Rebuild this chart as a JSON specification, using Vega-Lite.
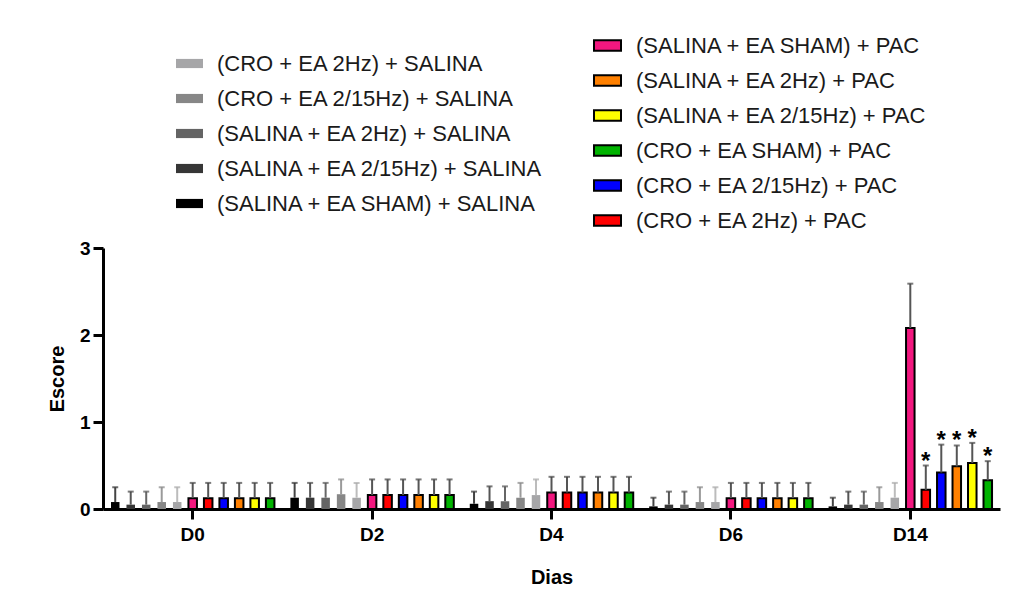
{
  "$schema": "https://vega.github.io/schema/vega-lite/v6.json",
  "width": 897,
  "height": 261,
  "autosize": {"type": "none"},
  "padding": {"left": 103, "top": 248, "right": 17, "bottom": 83},
  "background": "white",
  "config": {"font": "Liberation Sans", "view": {"stroke": null}},
  "data": {"values": [
    {"dia": "D0", "grupo": "(SALINA + EA SHAM) + SALINA", "tipo": "SALINA", "media": 0.08, "topo": 0.25},
    {"dia": "D0", "grupo": "(SALINA + EA 2/15Hz) + SALINA", "tipo": "SALINA", "media": 0.05, "topo": 0.2},
    {"dia": "D0", "grupo": "(SALINA + EA 2Hz) + SALINA", "tipo": "SALINA", "media": 0.05, "topo": 0.2},
    {"dia": "D0", "grupo": "(CRO + EA 2/15Hz) + SALINA", "tipo": "SALINA", "media": 0.08, "topo": 0.25},
    {"dia": "D0", "grupo": "(CRO + EA 2Hz) + SALINA", "tipo": "SALINA", "media": 0.08, "topo": 0.25},
    {"dia": "D0", "grupo": "(SALINA + EA SHAM) + PAC", "tipo": "PAC", "media": 0.125, "topo": 0.3},
    {"dia": "D0", "grupo": "(CRO + EA 2Hz) + PAC", "tipo": "PAC", "media": 0.125, "topo": 0.3},
    {"dia": "D0", "grupo": "(CRO + EA 2/15Hz) + PAC", "tipo": "PAC", "media": 0.125, "topo": 0.3},
    {"dia": "D0", "grupo": "(SALINA + EA 2Hz) + PAC", "tipo": "PAC", "media": 0.125, "topo": 0.3},
    {"dia": "D0", "grupo": "(SALINA + EA 2/15Hz) + PAC", "tipo": "PAC", "media": 0.125, "topo": 0.3},
    {"dia": "D0", "grupo": "(CRO + EA SHAM) + PAC", "tipo": "PAC", "media": 0.125, "topo": 0.3},

    {"dia": "D2", "grupo": "(SALINA + EA SHAM) + SALINA", "tipo": "SALINA", "media": 0.13, "topo": 0.3},
    {"dia": "D2", "grupo": "(SALINA + EA 2/15Hz) + SALINA", "tipo": "SALINA", "media": 0.13, "topo": 0.3},
    {"dia": "D2", "grupo": "(SALINA + EA 2Hz) + SALINA", "tipo": "SALINA", "media": 0.13, "topo": 0.3},
    {"dia": "D2", "grupo": "(CRO + EA 2/15Hz) + SALINA", "tipo": "SALINA", "media": 0.17, "topo": 0.34},
    {"dia": "D2", "grupo": "(CRO + EA 2Hz) + SALINA", "tipo": "SALINA", "media": 0.13, "topo": 0.3},
    {"dia": "D2", "grupo": "(SALINA + EA SHAM) + PAC", "tipo": "PAC", "media": 0.16, "topo": 0.34},
    {"dia": "D2", "grupo": "(CRO + EA 2Hz) + PAC", "tipo": "PAC", "media": 0.16, "topo": 0.34},
    {"dia": "D2", "grupo": "(CRO + EA 2/15Hz) + PAC", "tipo": "PAC", "media": 0.16, "topo": 0.34},
    {"dia": "D2", "grupo": "(SALINA + EA 2Hz) + PAC", "tipo": "PAC", "media": 0.16, "topo": 0.34},
    {"dia": "D2", "grupo": "(SALINA + EA 2/15Hz) + PAC", "tipo": "PAC", "media": 0.16, "topo": 0.34},
    {"dia": "D2", "grupo": "(CRO + EA SHAM) + PAC", "tipo": "PAC", "media": 0.16, "topo": 0.34},

    {"dia": "D4", "grupo": "(SALINA + EA SHAM) + SALINA", "tipo": "SALINA", "media": 0.06, "topo": 0.2},
    {"dia": "D4", "grupo": "(SALINA + EA 2/15Hz) + SALINA", "tipo": "SALINA", "media": 0.09, "topo": 0.26},
    {"dia": "D4", "grupo": "(SALINA + EA 2Hz) + SALINA", "tipo": "SALINA", "media": 0.09, "topo": 0.26},
    {"dia": "D4", "grupo": "(CRO + EA 2/15Hz) + SALINA", "tipo": "SALINA", "media": 0.13, "topo": 0.3},
    {"dia": "D4", "grupo": "(CRO + EA 2Hz) + SALINA", "tipo": "SALINA", "media": 0.16, "topo": 0.34},
    {"dia": "D4", "grupo": "(SALINA + EA SHAM) + PAC", "tipo": "PAC", "media": 0.19, "topo": 0.37},
    {"dia": "D4", "grupo": "(CRO + EA 2Hz) + PAC", "tipo": "PAC", "media": 0.19, "topo": 0.37},
    {"dia": "D4", "grupo": "(CRO + EA 2/15Hz) + PAC", "tipo": "PAC", "media": 0.19, "topo": 0.37},
    {"dia": "D4", "grupo": "(SALINA + EA 2Hz) + PAC", "tipo": "PAC", "media": 0.19, "topo": 0.37},
    {"dia": "D4", "grupo": "(SALINA + EA 2/15Hz) + PAC", "tipo": "PAC", "media": 0.19, "topo": 0.37},
    {"dia": "D4", "grupo": "(CRO + EA SHAM) + PAC", "tipo": "PAC", "media": 0.19, "topo": 0.37},

    {"dia": "D6", "grupo": "(SALINA + EA SHAM) + SALINA", "tipo": "SALINA", "media": 0.03, "topo": 0.13},
    {"dia": "D6", "grupo": "(SALINA + EA 2/15Hz) + SALINA", "tipo": "SALINA", "media": 0.05, "topo": 0.2},
    {"dia": "D6", "grupo": "(SALINA + EA 2Hz) + SALINA", "tipo": "SALINA", "media": 0.05, "topo": 0.2},
    {"dia": "D6", "grupo": "(CRO + EA 2/15Hz) + SALINA", "tipo": "SALINA", "media": 0.08, "topo": 0.25},
    {"dia": "D6", "grupo": "(CRO + EA 2Hz) + SALINA", "tipo": "SALINA", "media": 0.08, "topo": 0.25},
    {"dia": "D6", "grupo": "(SALINA + EA SHAM) + PAC", "tipo": "PAC", "media": 0.125, "topo": 0.3},
    {"dia": "D6", "grupo": "(CRO + EA 2Hz) + PAC", "tipo": "PAC", "media": 0.125, "topo": 0.3},
    {"dia": "D6", "grupo": "(CRO + EA 2/15Hz) + PAC", "tipo": "PAC", "media": 0.125, "topo": 0.3},
    {"dia": "D6", "grupo": "(SALINA + EA 2Hz) + PAC", "tipo": "PAC", "media": 0.125, "topo": 0.3},
    {"dia": "D6", "grupo": "(SALINA + EA 2/15Hz) + PAC", "tipo": "PAC", "media": 0.125, "topo": 0.3},
    {"dia": "D6", "grupo": "(CRO + EA SHAM) + PAC", "tipo": "PAC", "media": 0.125, "topo": 0.3},

    {"dia": "D14", "grupo": "(SALINA + EA SHAM) + SALINA", "tipo": "SALINA", "media": 0.03, "topo": 0.13},
    {"dia": "D14", "grupo": "(SALINA + EA 2/15Hz) + SALINA", "tipo": "SALINA", "media": 0.05, "topo": 0.2},
    {"dia": "D14", "grupo": "(SALINA + EA 2Hz) + SALINA", "tipo": "SALINA", "media": 0.05, "topo": 0.2},
    {"dia": "D14", "grupo": "(CRO + EA 2/15Hz) + SALINA", "tipo": "SALINA", "media": 0.08, "topo": 0.25},
    {"dia": "D14", "grupo": "(CRO + EA 2Hz) + SALINA", "tipo": "SALINA", "media": 0.13, "topo": 0.3},
    {"dia": "D14", "grupo": "(SALINA + EA SHAM) + PAC", "tipo": "PAC", "media": 2.08, "topo": 2.59},
    {"dia": "D14", "grupo": "(CRO + EA 2Hz) + PAC", "tipo": "PAC", "media": 0.22, "topo": 0.5, "sig": "*"},
    {"dia": "D14", "grupo": "(CRO + EA 2/15Hz) + PAC", "tipo": "PAC", "media": 0.42, "topo": 0.74, "sig": "*"},
    {"dia": "D14", "grupo": "(SALINA + EA 2Hz) + PAC", "tipo": "PAC", "media": 0.49, "topo": 0.73, "sig": "*"},
    {"dia": "D14", "grupo": "(SALINA + EA 2/15Hz) + PAC", "tipo": "PAC", "media": 0.53, "topo": 0.76, "sig": "*"},
    {"dia": "D14", "grupo": "(CRO + EA SHAM) + PAC", "tipo": "PAC", "media": 0.33, "topo": 0.55, "sig": "*"}
  ]},
  "encoding": {
    "x": {
      "field": "dia", "type": "nominal",
      "scale": {"domain": ["D0", "D2", "D4", "D6", "D14"], "paddingInner": 0.05, "paddingOuter": 0.025},
      "axis": {
        "title": "Dias", "labelAngle": 0, "bandPosition": 0.5,
        "domainWidth": 3, "domainColor": "black", "tickWidth": 3, "tickColor": "black", "tickSize": 10,
        "labelFontSize": 19, "labelFontWeight": "bold", "labelColor": "black", "labelPadding": 6,
        "titleFontSize": 20, "titleFontWeight": "bold", "titleColor": "black", "titlePadding": 23
      }
    },
    "xOffset": {
      "field": "grupo", "type": "nominal",
      "scale": {
        "domain": ["(SALINA + EA SHAM) + SALINA", "(SALINA + EA 2/15Hz) + SALINA", "(SALINA + EA 2Hz) + SALINA", "(CRO + EA 2/15Hz) + SALINA", "(CRO + EA 2Hz) + SALINA", "(SALINA + EA SHAM) + PAC", "(CRO + EA 2Hz) + PAC", "(CRO + EA 2/15Hz) + PAC", "(SALINA + EA 2Hz) + PAC", "(SALINA + EA 2/15Hz) + PAC", "(CRO + EA SHAM) + PAC"],
        "paddingInner": 0.45, "paddingOuter": 0.225
      }
    },
    "y": {
      "field": "media", "type": "quantitative",
      "scale": {"domain": [0, 3], "nice": false},
      "axis": {
        "title": "Escore", "values": [0, 1, 2, 3], "format": "d", "grid": false,
        "domainWidth": 3, "domainColor": "black", "tickWidth": 3, "tickColor": "black", "tickSize": 10,
        "labelFontSize": 19, "labelFontWeight": "bold", "labelColor": "black", "labelPadding": 3,
        "titleFontSize": 20, "titleFontWeight": "bold", "titleColor": "black", "titlePadding": 12
      }
    }
  },
  "layer": [
    {
      "transform": [{"filter": "datum.tipo == 'SALINA'"}],
      "mark": {"type": "bar"},
      "encoding": {
        "color": {
          "field": "grupo", "type": "nominal",
          "scale": {
            "domain": ["(CRO + EA 2Hz) + SALINA", "(CRO + EA 2/15Hz) + SALINA", "(SALINA + EA 2Hz) + SALINA", "(SALINA + EA 2/15Hz) + SALINA", "(SALINA + EA SHAM) + SALINA"],
            "range": ["#a6a6a8", "#878787", "#646464", "#363636", "#000000"]
          },
          "legend": {
            "title": null, "orient": "none", "legendX": 73, "legendY": -198,
            "symbolType": "M-1,-0.34L1,-0.34L1,0.34L-1,0.34Z", "symbolSize": 729, "symbolStrokeWidth": 0,
            "labelFontSize": 22, "labelFont": "Liberation Sans", "labelColor": "#1a1a1a", "labelLimit": 500,
            "labelOffset": 14, "rowPadding": 10
          }
        }
      }
    },
    {
      "transform": [{"filter": "datum.tipo == 'PAC'"}],
      "mark": {"type": "bar", "stroke": "black", "strokeWidth": 2},
      "encoding": {
        "color": {
          "field": "grupo", "type": "nominal",
          "scale": {
            "domain": ["(SALINA + EA SHAM) + PAC", "(SALINA + EA 2Hz) + PAC", "(SALINA + EA 2/15Hz) + PAC", "(CRO + EA SHAM) + PAC", "(CRO + EA 2/15Hz) + PAC", "(CRO + EA 2Hz) + PAC"],
            "range": ["#f2177f", "#ff8000", "#ffff00", "#00b300", "#0000ff", "#ff0000"]
          },
          "legend": {
            "title": null, "orient": "none", "legendX": 490, "legendY": -217,
            "symbolType": "M-1,-0.38L1,-0.38L1,0.38L-1,0.38Z", "symbolSize": 729,
            "symbolStrokeColor": "black", "symbolStrokeWidth": 2,
            "labelFontSize": 22, "labelFont": "Liberation Sans", "labelColor": "#1a1a1a", "labelLimit": 500,
            "labelOffset": 14, "rowPadding": 9
          }
        }
      }
    },
    {
      "mark": {"type": "rule", "strokeWidth": 2},
      "encoding": {
        "y": {"field": "media", "type": "quantitative"},
        "y2": {"field": "topo"},
        "color": {
          "field": "grupo", "type": "nominal", "legend": null,
          "scale": {
            "domain": ["(SALINA + EA SHAM) + SALINA", "(SALINA + EA 2/15Hz) + SALINA", "(SALINA + EA 2Hz) + SALINA", "(CRO + EA 2/15Hz) + SALINA", "(CRO + EA 2Hz) + SALINA", "(SALINA + EA SHAM) + PAC", "(CRO + EA 2Hz) + PAC", "(CRO + EA 2/15Hz) + PAC", "(SALINA + EA 2Hz) + PAC", "(SALINA + EA 2/15Hz) + PAC", "(CRO + EA SHAM) + PAC"],
            "range": ["#444444", "#555555", "#666666", "#9a9a9a", "#bcbcbc", "#555555", "#555555", "#555555", "#555555", "#555555", "#555555"]
          }
        }
      }
    },
    {
      "mark": {"type": "tick", "size": 6, "thickness": 2},
      "encoding": {
        "y": {"field": "topo", "type": "quantitative"},
        "color": {
          "field": "grupo", "type": "nominal", "legend": null,
          "scale": {
            "domain": ["(SALINA + EA SHAM) + SALINA", "(SALINA + EA 2/15Hz) + SALINA", "(SALINA + EA 2Hz) + SALINA", "(CRO + EA 2/15Hz) + SALINA", "(CRO + EA 2Hz) + SALINA", "(SALINA + EA SHAM) + PAC", "(CRO + EA 2Hz) + PAC", "(CRO + EA 2/15Hz) + PAC", "(SALINA + EA 2Hz) + PAC", "(SALINA + EA 2/15Hz) + PAC", "(CRO + EA SHAM) + PAC"],
            "range": ["#333333", "#444444", "#555555", "#888888", "#aaaaaa", "#444444", "#444444", "#444444", "#444444", "#444444", "#444444"]
          }
        }
      }
    },
    {
      "transform": [{"filter": "datum.sig != null"}],
      "mark": {"type": "text", "fontSize": 24, "fontWeight": "bold", "baseline": "alphabetic", "dy": 3, "color": "black"},
      "encoding": {
        "y": {"field": "topo", "type": "quantitative"},
        "text": {"field": "sig"}
      }
    }
  ],
  "resolve": {"scale": {"color": "independent"}}
}
